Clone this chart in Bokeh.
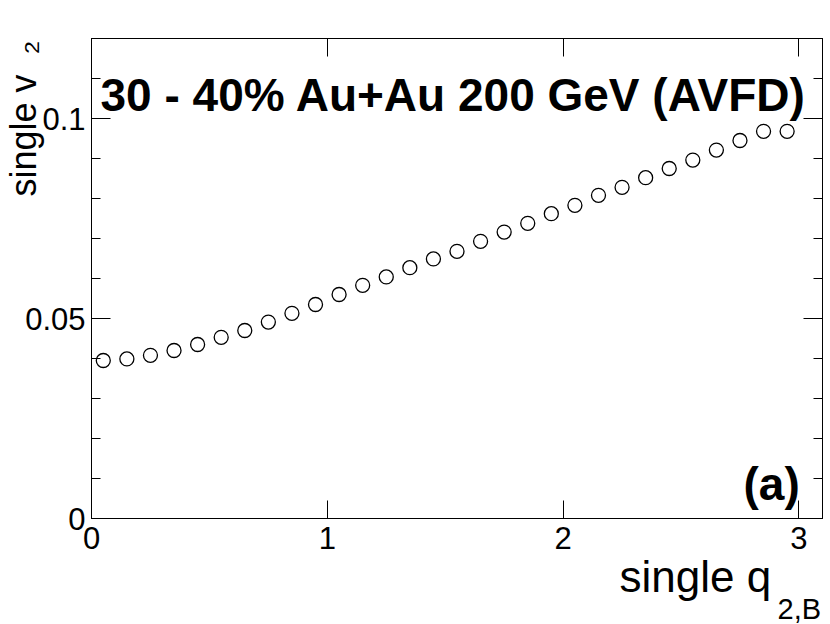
from bokeh.plotting import figure
from bokeh.models import Range1d, FixedTicker, LinearAxis, Label, Title, NumeralTickFormatter
from bokeh.embed import file_html
from bokeh.resources import INLINE

# ---- data ----
q2_bins = [0.05, 0.15, 0.25, 0.35, 0.45, 0.55, 0.65, 0.75, 0.85, 0.95,
           1.05, 1.15, 1.25, 1.35, 1.45, 1.55, 1.65, 1.75, 1.85, 1.95,
           2.05, 2.15, 2.25, 2.35, 2.45, 2.55, 2.65, 2.75, 2.85, 2.95]
v2_values = [0.0395, 0.0399, 0.0408, 0.0420, 0.0435, 0.0453, 0.0470, 0.0491, 0.0513, 0.0535,
             0.0560, 0.0583, 0.0604, 0.0627, 0.0649, 0.0668, 0.0693, 0.0716, 0.0738, 0.0762,
             0.0783, 0.0808, 0.0828, 0.0852, 0.0875, 0.0896, 0.0921, 0.0945, 0.0968, 0.0968]
x_ticks = [0, 1, 2, 3]
y_ticks = [0, 0.05, 0.1]
y_minor = [0.01, 0.02, 0.03, 0.04, 0.06, 0.07, 0.08, 0.09, 0.11, 0.12]

X0, X1 = 0.0, 3.1
Y0, Y1 = 0.0, 0.12
FONT = "Liberation Sans"
NBSP = "\u00a0"

W, H = 830, 624
BL, BR, BT, BB = 91, 8, 38, 106

p = figure(width=W, height=H, x_range=Range1d(X0, X1), y_range=Range1d(Y0, Y1),
           output_backend="svg", toolbar_location=None,
           min_border_left=BL, min_border_right=BR, min_border_top=BT, min_border_bottom=BB)
p.background_fill_color = "white"
p.border_fill_color = "white"
p.outline_line_color = "black"
p.outline_line_width = 1
p.xgrid.visible = False
p.ygrid.visible = False

xt = FixedTicker(ticks=x_ticks, minor_ticks=[])
yt = FixedTicker(ticks=y_ticks, minor_ticks=y_minor)

def style_common(ax, labels):
    ax.major_tick_out = 0
    ax.minor_tick_out = 0
    ax.axis_line_color = "black"
    ax.major_tick_line_color = "black"
    ax.minor_tick_line_color = "black"
    ax.major_label_text_font = FONT
    if labels:
        ax.major_label_text_color = "black"
        ax.major_label_text_font_size = "31px"
    else:
        ax.major_label_text_color = None
        ax.major_label_text_font_size = "1px"
        ax.major_label_standoff = 0

def style_x(ax, labels=True):
    ax.ticker = xt
    ax.formatter = NumeralTickFormatter(format="0")
    ax.major_tick_in = 18
    ax.minor_tick_in = 0
    style_common(ax, labels)
    if labels:
        ax.major_label_standoff = 8

def style_y(ax, labels=True):
    ax.ticker = yt
    ax.formatter = NumeralTickFormatter(format="0.[00]")
    ax.major_tick_in = 19
    ax.minor_tick_in = 9
    style_common(ax, labels)
    if labels:
        ax.major_label_standoff = 6

style_x(p.xaxis[0])
style_y(p.yaxis[0])
top_ax = LinearAxis()
style_x(top_ax, labels=False)
p.add_layout(top_ax, "above")
right_ax = LinearAxis()
style_y(right_ax, labels=False)
p.add_layout(right_ax, "right")

# y-axis title (rotated), pushed toward the top with leading no-break spaces
yax = p.yaxis[0]
yax.axis_label = NBSP * 32 + "single v" + NBSP * 2 + "\u2082"
yax.axis_label_text_font = FONT
yax.axis_label_text_font_size = "36px"
yax.axis_label_text_font_style = "normal"
yax.axis_label_text_color = "black"
yax.axis_label_standoff = -22

# x-axis title with subscript, as titles below the axis
p.add_layout(Title(text="single q", align="left", offset=528, standoff=-3,
                   vertical_align="bottom", text_font=FONT, text_font_size="44px",
                   text_font_style="normal", text_color="black"), "below")
p.add_layout(Title(text="2,B", align="left", offset=686, standoff=-18,
                   vertical_align="bottom", text_font=FONT, text_font_size="29px",
                   text_font_style="normal", text_color="black"), "below")

p.scatter(q2_bins, v2_values, marker="circle", size=14, fill_color=None,
          line_color="black", line_width=1.3)

# page-pixel -> data helpers (frame: x 91..822, y 38..518)
FL, FR, FT, FB = BL, W - BR, BT, H - BB
def dx(px):
    return X0 + (px - FL) / (FR - FL) * (X1 - X0)
def dy(py):
    return Y0 + (FB - py) / (FB - FT) * (Y1 - Y0)

def lab(text, px, py, size, bold=False):
    p.add_layout(Label(x=dx(px), y=dy(py), text=text, text_font=FONT,
                       text_font_size=size, text_font_style="bold" if bold else "normal",
                       text_color="black", text_align="left", text_baseline="alphabetic"))

lab("30 - 40% Au+Au 200 GeV (AVFD)", 100, 94.5, "46px", bold=True)
lab("(a)", 743, 483.5, "46px", bold=True)

open("out.html", "w").write(file_html(p, INLINE))
